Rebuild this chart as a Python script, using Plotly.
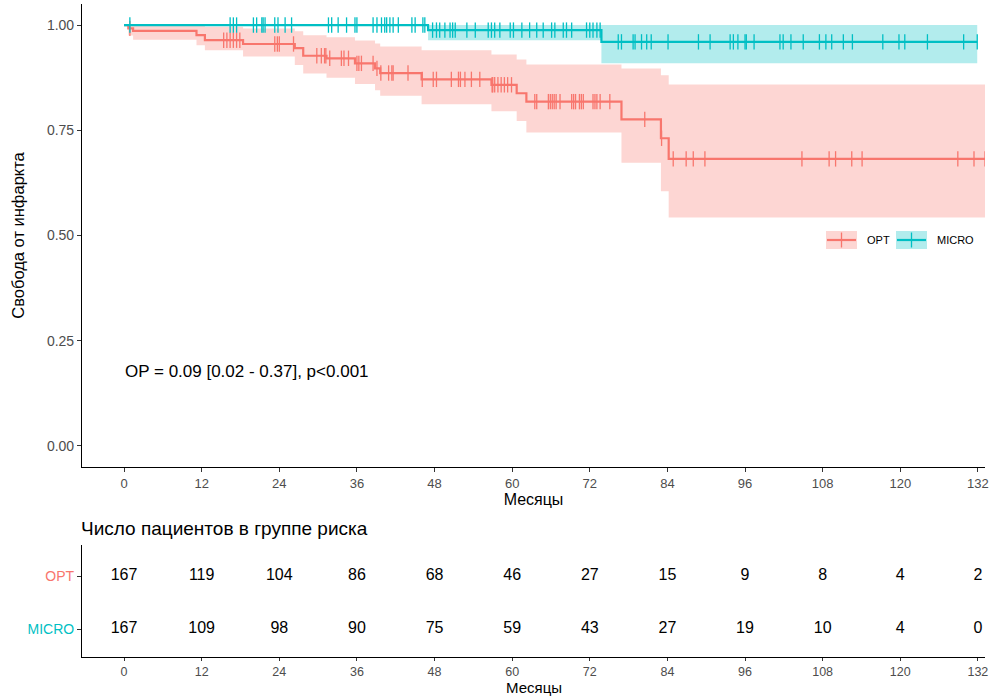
import plotly.graph_objects as go

# ---------------- data ----------------
month_ticks = [0, 12, 24, 36, 48, 60, 72, 84, 96, 108, 120, 132]

# OPT Kaplan-Meier steps (start time, survival, upper CI, lower CI)
opt_t = [0, 0.66, 1.4, 11.2, 12.5, 18.4, 26.4, 27.7, 31.3, 35.7, 38.8, 39.6, 46.0, 56.8, 60.7, 62.2, 76.9, 83.0, 84.2]
opt_s = [1.0, 0.992, 0.986, 0.976, 0.964, 0.955, 0.945, 0.927, 0.921, 0.909, 0.897, 0.886, 0.871, 0.858, 0.838, 0.818, 0.776, 0.731, 0.682]
opt_u = [1.0, 1.0, 1.0, 1.0, 0.996, 0.992, 0.985, 0.976, 0.971, 0.963, 0.956, 0.949, 0.940, 0.930, 0.918, 0.906, 0.897, 0.881, 0.859]
opt_l = [1.0, 0.975, 0.965, 0.952, 0.940, 0.925, 0.905, 0.885, 0.875, 0.860, 0.845, 0.832, 0.812, 0.795, 0.772, 0.745, 0.673, 0.605, 0.543]
opt_end = 133.1

# MICRO Kaplan-Meier steps
micro_t = [0, 47.0, 73.8]
micro_s = [1.0, 0.988, 0.960]
micro_u = [1.0, 1.0, 1.0]
micro_l = [1.0, 0.964, 0.909]
micro_end = 131.9

# censoring times
opt_censor = [0.9, 15.4, 15.9, 16.4, 16.9, 17.4, 17.9, 23.3, 23.7, 24.0, 26.2, 29.8, 30.5, 31.0, 31.2, 31.8,
              33.6, 34.0, 34.7, 36.0, 36.3, 36.7, 38.5, 39.1, 39.7, 40.9, 41.4, 41.6, 43.9, 46.1, 47.8, 48.3,
              50.6, 51.7, 52.0, 52.7, 53.7, 55.0, 56.9, 57.0, 57.3, 57.8, 58.3, 58.8, 59.3, 59.9, 63.5, 63.8,
              65.6, 65.9, 66.2, 66.5, 66.8, 67.4, 69.2, 69.5, 69.8, 70.4, 70.7, 71.0, 72.5, 72.8, 73.1, 73.6,
              75.1, 80.5, 83.1, 84.9, 86.9, 88.0, 89.8, 104.8, 109.0, 110.0, 112.5, 114.1, 128.9, 131.4, 133.1]
micro_censor = [0.9, 16.4, 16.9, 17.4, 20.0, 20.5, 21.3, 21.5, 21.8, 23.3, 23.8, 24.9, 25.9, 31.6, 32.1, 33.1,
                34.4, 35.7, 36.0, 38.5, 39.1, 39.8, 40.3, 40.6, 41.1, 41.6, 42.4, 44.5, 45.0, 46.2, 46.5,
                47.7, 48.3, 48.8, 49.6, 50.4, 50.8, 51.2, 53.0, 54.3, 56.3, 56.8, 57.3, 58.1, 59.7, 60.2,
                61.5, 62.7, 63.8, 64.8, 66.1, 66.6, 67.9, 68.4, 69.2, 71.5, 72.0, 72.5, 73.1, 73.6,
                76.4, 76.9, 78.7, 79.0, 80.0, 80.8, 81.5, 84.1, 88.8, 90.6, 93.7, 94.2, 94.9, 96.0, 96.2,
                97.4, 101.4, 101.9, 103.1, 105.0, 107.5, 108.5, 109.4, 111.2, 112.6, 117.3, 119.8, 120.7,
                124.2, 129.8, 131.9]

opt_risk = [167, 119, 104, 86, 68, 46, 27, 15, 9, 8, 4, 2]
micro_risk = [167, 109, 98, 90, 75, 59, 43, 27, 19, 10, 4, 0]

groups = ["OPT", "MICRO"]
hr_text = "OP = 0.09 [0.02 - 0.37], p<0.001"
x_title = "Месяцы"

# ---------------- styling ----------------
RED = "#F8766D"
TEAL = "#00BFC4"
RED_FILL = "rgba(248,118,109,0.3)"
TEAL_FILL = "rgba(0,191,196,0.3)"
FONT = "Liberation Sans, Arial, sans-serif"

W, H = 998, 698
ML, MR, MT, MB = 82, 13, 4, 38
PW = W - ML - MR
PH = H - MT - MB


def px_x(px):
    return (px - ML) / PW


def px_y(py):
    return (H - MB - py) / PH


def step_xy(t, v, end):
    return list(t) + [end], list(v) + [v[-1]]


def surv_at(t, s, c):
    val = s[0]
    for ti, si in zip(t, s):
        if ti <= c:
            val = si
    return val


fig = go.Figure()

# confidence bands
for t, u, l, end, fillc in [(opt_t, opt_u, opt_l, opt_end, RED_FILL),
                            (micro_t, micro_u, micro_l, micro_end, TEAL_FILL)]:
    xl, yl = step_xy(t, l, end)
    xu, yu = step_xy(t, u, end)
    fig.add_trace(go.Scatter(x=xl, y=yl, mode="lines", line=dict(width=0, shape="hv"),
                             showlegend=False, hoverinfo="skip"))
    fig.add_trace(go.Scatter(x=xu, y=yu, mode="lines", line=dict(width=0, shape="hv"),
                             fill="tonexty", fillcolor=fillc, showlegend=False, hoverinfo="skip"))

# survival curves + censor marks
for t, s, end, cens, col in [(opt_t, opt_s, opt_end, opt_censor, RED),
                             (micro_t, micro_s, micro_end, micro_censor, TEAL)]:
    xs, ys = step_xy(t, s, end)
    fig.add_trace(go.Scatter(x=xs, y=ys, mode="lines", line=dict(color=col, width=2.2, shape="hv"),
                             showlegend=False))
    fig.add_trace(go.Scatter(x=cens, y=[surv_at(t, s, c) for c in cens], mode="markers",
                             marker=dict(symbol="line-ns", size=11, line=dict(color=col, width=1.3)),
                             showlegend=False))

# risk table
for vals, yv in [(opt_risk, 1), (micro_risk, 0)]:
    fig.add_trace(go.Scatter(x=month_ticks, y=[yv] * len(month_ticks), mode="text",
                             text=[str(v) for v in vals], textposition="middle center",
                             textfont=dict(size=16, color="black", family=FONT),
                             xaxis="x2", yaxis="y2", showlegend=False))

axis_common = dict(showline=True, linecolor="black", linewidth=1.1, ticks="outside",
                   tickcolor="#333333", tickwidth=1, showgrid=False, zeroline=False, automargin=False)
ytick_font = dict(size=14, color="#4D4D4D", family=FONT)
xtick_font = dict(size=13, color="#4D4D4D", family=FONT)

main_bottom = px_y(467)
table_top = px_y(545)
table_bottom = px_y(657)

fig.update_layout(
    width=W, height=H, margin=dict(l=ML, r=MR, t=MT, b=MB, autoexpand=False),
    plot_bgcolor="white", paper_bgcolor="white",
    font=dict(family=FONT),
    showlegend=False,
    xaxis=dict(domain=[0, 1], range=[-6.5, 133.1], tickvals=month_ticks, anchor="y", tickfont=xtick_font,
               ticklen=4,
               title=dict(text=x_title, font=dict(size=16, color="black"), standoff=2), **axis_common),
    yaxis=dict(domain=[main_bottom, 1], range=[-0.05, 1.05], tickvals=[0, 0.25, 0.5, 0.75, 1.0],
               ticktext=["0.00", "0.25", "0.50", "0.75", "1.00"], anchor="x", tickfont=ytick_font,
               ticklen=4,
               title=dict(text="Свобода от инфаркта", font=dict(size=16.5, color="black"), standoff=18),
               **axis_common),
    xaxis2=dict(domain=[0, 1], range=[-6.5, 133.1], tickvals=month_ticks, anchor="y2",
                tickfont=dict(size=12.5, color="#4D4D4D", family=FONT), ticklen=3, **axis_common),
    yaxis2=dict(domain=[table_bottom, table_top], range=[-0.528, 1.585], tickvals=[1, 0], anchor="x2",
                tickfont=ytick_font, ticklen=4,
                ticktext=[f"<span style='color:{RED}'>{groups[0]}</span>",
                          f"<span style='color:{TEAL}'>{groups[1]}</span>"],
                **axis_common),
)

# risk-table x-axis title
fig.add_annotation(x=0.5, y=px_y(698), xref="paper", yref="paper", text=x_title, showarrow=False,
                   xanchor="center", yanchor="bottom", font=dict(size=15, color="black", family=FONT))

# HR annotation
fig.add_annotation(x=-0.2, y=0.178, xref="x", yref="y", text=hr_text, showarrow=False,
                   xanchor="left", yanchor="middle", font=dict(size=17, color="black", family=FONT))

# risk table title
fig.add_annotation(x=px_x(79), y=px_y(528), xref="paper", yref="paper",
                   text="Число пациентов в группе риска", showarrow=False,
                   xanchor="left", yanchor="middle", font=dict(size=19, color="black", family=FONT))

# manual legend
for name, col, fillc, x0 in [(groups[0], RED, RED_FILL, 826), (groups[1], TEAL, TEAL_FILL, 896)]:
    fig.add_shape(type="rect", xref="paper", yref="paper", x0=px_x(x0), x1=px_x(x0 + 31),
                  y0=px_y(249), y1=px_y(231), fillcolor=fillc, line=dict(width=0))
    fig.add_shape(type="line", xref="paper", yref="paper", x0=px_x(x0 + 1), x1=px_x(x0 + 30),
                  y0=px_y(240), y1=px_y(240), line=dict(color=col, width=2.2))
    fig.add_shape(type="line", xref="paper", yref="paper", x0=px_x(x0 + 15.5), x1=px_x(x0 + 15.5),
                  y0=px_y(247.5), y1=px_y(232.5), line=dict(color=col, width=1.3))
    fig.add_annotation(x=px_x(x0 + 39), y=px_y(240), xref="paper", yref="paper", text=name,
                       showarrow=False, xanchor="left", yanchor="middle",
                       font=dict(size=11, color="black", family=FONT))

fig.write_html("out.html")
